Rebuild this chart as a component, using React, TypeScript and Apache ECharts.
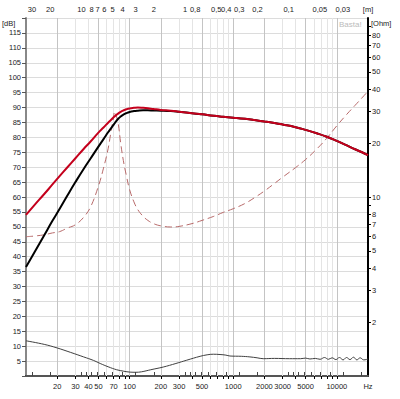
import React, { useEffect, useRef } from 'react';
import * as echarts from 'echarts';

const SOUND_SPEED = 343;

// frequency grid (Hz) for the SPL / impedance curves
const freqs = [10, 12, 15, 18, 21, 25, 30, 36, 42, 50, 56, 62, 66, 69, 72, 75, 78, 82, 87, 93, 100, 110, 120, 135, 150, 170, 200, 250, 300, 400, 500, 650, 800, 1000, 1300, 1600, 2000, 2500, 3000, 4000, 5000, 6500, 8000, 10000, 12500, 15000, 17500, 20000];
// red SPL (dB)
const splRed = [54, 57.2, 61, 64.2, 66.9, 69.9, 73, 76.1, 78.6, 81.6, 83.3, 84.9, 85.8, 86.5, 87.1, 87.6, 88.05, 88.55, 89, 89.4, 89.7, 89.9, 90, 89.9, 89.75, 89.5, 89.2, 88.9, 88.6, 88.1, 87.7, 87.2, 86.9, 86.6, 86.2, 85.8, 85.3, 84.8, 84.3, 83.4, 82.5, 81.3, 80.2, 78.8, 77.3, 76, 75, 74];
// black SPL (dB)
const splBlack = [36.5, 41.3, 47.2, 52, 55.9, 60.4, 65, 69.4, 72.9, 76.9, 79.4, 81.7, 83, 83.9, 84.8, 85.6, 86.3, 87, 87.6, 88.1, 88.5, 88.8, 88.95, 89.05, 89.05, 89, 88.95, 88.8, 88.55, 88.1, 87.7, 87.2, 86.9, 86.6, 86.2, 85.8, 85.3, 84.8, 84.3, 83.4, 82.5, 81.3, 80.2, 78.8, 77.3, 76, 75, 74];
// impedance (Ohm)
const impedance = [6, 6.05, 6.15, 6.3, 6.4, 6.7, 7, 7.7, 8.8, 11.5, 14.5, 18.6, 23, 26.5, 30, 28, 25.3, 20, 16, 13.2, 11, 9.4, 8.5, 7.8, 7.4, 7.1, 6.9, 6.8, 6.85, 7.1, 7.4, 7.8, 8.2, 8.6, 9.2, 9.9, 10.8, 11.9, 12.9, 14.6, 16.2, 18.7, 21.3, 25, 29, 32.5, 35.8, 39];
// grey low curve (dB)
const grayFreqs = [10, 15, 20, 27, 36, 45, 52, 62, 75, 88, 101, 115, 130, 160, 211, 280, 356, 479, 560, 643, 746, 850, 930, 1200, 1450, 1700, 1950, 2500, 3500, 4470, 5000, 5500, 6200, 6890, 7600, 8300, 9000, 9800, 10600, 11500, 12400, 13400, 14500, 15600, 16800, 18200, 20000];
const grayValues = [11.8, 10.6, 9.4, 7.9, 6.4, 5.2, 4.2, 3.1, 2.1, 1.6, 1.3, 1.25, 1.4, 2.1, 3, 4.2, 5.3, 6.6, 7.1, 7.3, 7.2, 7, 6.7, 6.6, 6.4, 6.1, 5.8, 5.9, 5.8, 5.8, 6.0, 5.7, 5.9, 5.6, 6.2, 5.6, 6.1, 5.5, 6.2, 5.4, 6.2, 5.5, 6.3, 5.4, 6.1, 5.4, 5.7];

// axes
const hzLabels = [20, 30, 40, 50, 70, 100, 200, 300, 500, 1000, 2000, 3000, 5000, 10000];
const hzTicks = [20, 30, 40, 50, 60, 70, 80, 90, 100, 200, 300, 400, 500, 600, 700, 800, 900, 1000, 2000, 3000, 4000, 5000, 6000, 7000, 8000, 9000, 10000];
const hzMajorGrid = [20, 50, 100, 200, 500, 1000, 2000, 5000, 10000];
const hzMinorGrid = [30, 40, 60, 70, 80, 90, 300, 400, 600, 700, 800, 900, 3000, 4000, 6000, 7000, 8000, 9000];
const mLabels = [30, 20, 10, 8, 7, 6, 5, 4, 3, 2, 1, 0.8, 0.5, 0.4, 0.3, 0.2, 0.1, 0.05, 0.03];
const mTicks = [30, 20, 10, 9, 8, 7, 6, 5, 4, 3, 2, 1, 0.9, 0.8, 0.7, 0.6, 0.5, 0.4, 0.3, 0.2, 0.1, 0.09, 0.08, 0.07, 0.06, 0.05, 0.04, 0.03, 0.02];
const ohmLabels = [2, 3, 4, 5, 6, 7, 8, 10, 20, 30, 40, 50, 60, 70, 80];
const ohmTicks = [2, 3, 4, 5, 6, 7, 8, 9, 10, 20, 30, 40, 50, 60, 70, 80, 90];

const F_MIN = 10;
const F_MAX = 20000;

export default function App() {
  const ref = useRef<HTMLDivElement>(null);
  useEffect(() => {
    const lg = Math.log10;
    const XMIN = lg(F_MIN);
    const XMAX = lg(F_MAX);
    const top = 18;
    const bottom = 23;
    const gridH = 399 - top - bottom;
    const font = "'Liberation Sans Narrow', 'Liberation Sans', Arial, sans-serif";
    const lbl = { fontSize: 7.5, color: '#222', fontFamily: font };
    const fmtM = (l: number) => (l >= 1 ? String(Math.round(l)) : String(Math.round(l * 100) / 100).replace('.', ','));
    const gridAxis = (vals: number[], color: string) => ({
      type: 'value', min: XMIN, max: XMAX, position: 'bottom',
      axisLine: { show: false }, axisLabel: { show: false }, splitLine: { show: false },
      axisTick: { show: true, inside: true, length: gridH, customValues: vals.map(lg), lineStyle: { color, width: 1 } },
    });
    const chart = echarts.init(ref.current!, null, { renderer: 'svg' });
    chart.setOption({
      animation: false,
      backgroundColor: '#fff',
      grid: { left: 26, right: 32, top, bottom, containLabel: false },
      xAxis: [
        {
          type: 'value', min: XMIN, max: XMAX, position: 'bottom',
          axisLine: { show: true, lineStyle: { color: '#000', width: 2 } },
          axisTick: { show: true, customValues: hzTicks.map(lg), length: 3, lineStyle: { color: '#000' } },
          axisLabel: {
            ...lbl, margin: 6, customValues: [...hzLabels, F_MAX].map(lg),
            formatter: (v: number) => (v > XMAX - 1e-6 ? 'Hz' : String(Math.round(Math.pow(10, v)))),
          },
          splitLine: { show: false },
        },
        {
          type: 'value', min: XMIN, max: XMAX, position: 'top',
          axisLine: { show: true, lineStyle: { color: '#555', width: 2 } },
          axisTick: { show: true, customValues: mTicks.map((m) => lg(SOUND_SPEED / m)), length: 4, lineStyle: { color: '#444' } },
          axisLabel: {
            ...lbl, margin: 5, customValues: [...mLabels.map((m) => lg(SOUND_SPEED / m)), XMAX],
            formatter: (v: number) => (v > XMAX - 1e-6 ? '[m]' : fmtM(SOUND_SPEED / Math.pow(10, v))),
          },
          splitLine: { show: false },
        },
        gridAxis(hzMinorGrid, '#e4e4e4'),
        gridAxis(hzMajorGrid, '#c4c4c4'),
      ],
      yAxis: [
        {
          type: 'value', min: 0, max: 120, interval: 5, position: 'left',
          axisLine: { show: true, lineStyle: { color: '#888', width: 2 } },
          axisTick: { show: true, length: 4, lineStyle: { color: '#555' } },
          axisLabel: { ...lbl, margin: 5, formatter: (v: number) => (v <= 0 || v >= 120 ? '' : String(v)) },
          splitLine: { show: true, lineStyle: { color: '#dcdcdc', width: 1 } },
        },
        {
          type: 'value', min: 0, max: 2, position: 'right',
          axisLine: { show: true, lineStyle: { color: '#000', width: 2 } },
          axisTick: { show: true, customValues: ohmTicks.map(lg), length: 3, lineStyle: { color: '#000' } },
          axisLabel: {
            ...lbl, margin: 4, customValues: ohmLabels.map(lg),
            formatter: (v: number) => String(Math.round(Math.pow(10, v))),
          },
          splitLine: { show: false },
        },
      ],
      graphic: [
        { type: 'text', left: 2, top: 19, style: { text: '[dB]', fontSize: 7.5, fill: '#222', fontFamily: font } },
        { type: 'text', left: 371, top: 19, style: { text: '[Ohm]', fontSize: 7.5, fill: '#222', fontFamily: font } },
        { type: 'text', left: 339, top: 20, style: { text: 'Basta!', fontSize: 8, fill: '#bbbbbb', fontFamily: font } },
      ],
      series: [
        {
          type: 'line', xAxisIndex: 0, yAxisIndex: 0, showSymbol: false, smooth: 0.4, z: 3,
          data: grayFreqs.map((f, i) => [lg(f), grayValues[i]]),
          lineStyle: { color: '#404040', width: 1 },
        },
        {
          type: 'line', xAxisIndex: 0, yAxisIndex: 1, showSymbol: false, smooth: 0.4, z: 3,
          data: freqs.map((f, i) => [lg(f), lg(impedance[i])]),
          lineStyle: { color: '#b86a6a', width: 1, type: [7, 4] },
        },
        {
          type: 'line', xAxisIndex: 0, yAxisIndex: 0, showSymbol: false, smooth: 0.5, z: 4,
          data: freqs.map((f, i) => [lg(f), splBlack[i]]),
          lineStyle: { color: '#000', width: 2 },
        },
        {
          type: 'line', xAxisIndex: 0, yAxisIndex: 0, showSymbol: false, smooth: 0.5, z: 5,
          data: freqs.map((f, i) => [lg(f), splRed[i]]),
          lineStyle: { color: '#c4001c', width: 2 },
        },
      ],
    });
    return () => chart.dispose();
  }, []);
  return <div ref={ref} style={{ position: 'fixed', left: 0, top: 0, width: 400, height: 399, background: '#fff' }} />;
}
